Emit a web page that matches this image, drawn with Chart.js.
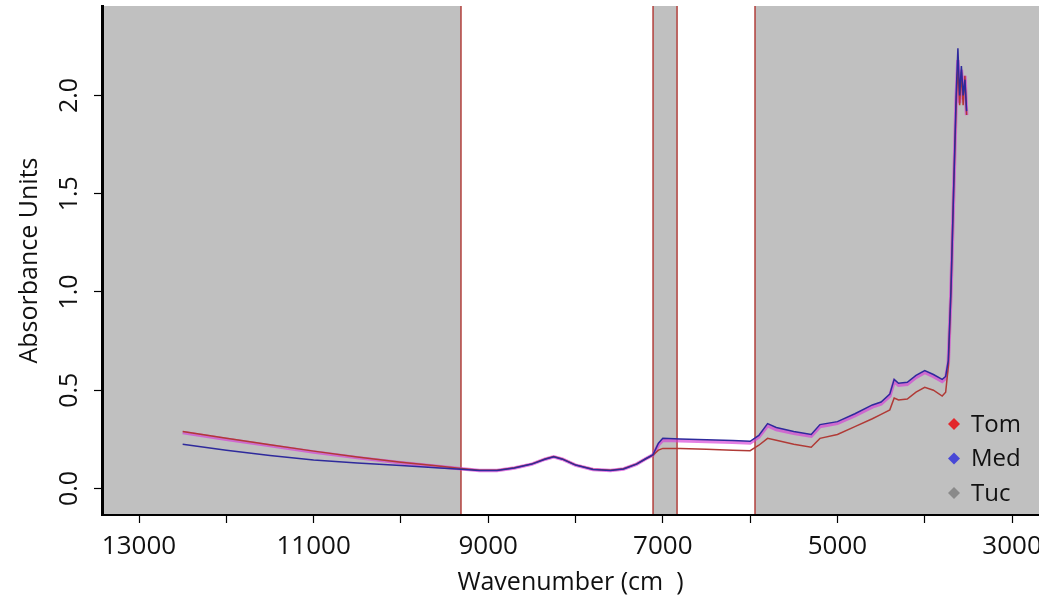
<!DOCTYPE html>
<html>
<head>
<meta charset="utf-8">
<title>Absorbance spectra</title>
<script src="https://cdn.jsdelivr.net/npm/chart.js@4.4.0/dist/chart.umd.min.js"></script>
<style>
  html, body { margin: 0; padding: 0; background: #fff; }
  #wrap { width: 1039px; height: 600px; position: relative; }
</style>
</head>
<body>
<div id="wrap"><canvas id="spectrum"></canvas></div>
<script>
// wavenumbers (cm-1) of the sampled points, high to low
const wavenumbers = [12500, 12000, 11500, 11000, 10500, 10000, 9600, 9312, 9100, 8900,
  8700, 8500, 8350, 8250, 8150, 8000, 7800, 7600, 7450, 7300,
  7200, 7112, 7050, 7000, 6800, 6500, 6200, 6000, 5900, 5800,
  5700, 5500, 5300, 5200, 5000, 4800, 4600, 4500, 4400, 4350,
  4300, 4200, 4100, 4000, 3900, 3800, 3760, 3730, 3700, 3670,
  3640, 3620, 3600, 3580, 3560, 3540, 3520];

const tom = [0.290, 0.255, 0.222, 0.190, 0.160, 0.133, 0.115, 0.102, 0.093, 0.093,
  0.105, 0.125, 0.150, 0.162, 0.150, 0.120, 0.098, 0.093, 0.100, 0.125,
  0.150, 0.170, 0.195, 0.204, 0.203, 0.200, 0.195, 0.192, 0.220, 0.255,
  0.245, 0.225, 0.210, 0.255, 0.275, 0.315, 0.355, 0.377, 0.400, 0.460,
  0.450, 0.455, 0.490, 0.515, 0.500, 0.470, 0.490, 0.620, 1.000, 1.500,
  1.950, 2.150, 1.950, 2.120, 1.950, 2.100, 1.900];

const med = [0.225, 0.195, 0.168, 0.145, 0.130, 0.117, 0.105, 0.098, 0.092, 0.092,
  0.104, 0.124, 0.149, 0.161, 0.149, 0.119, 0.097, 0.092, 0.099, 0.124,
  0.150, 0.172, 0.230, 0.255, 0.252, 0.248, 0.244, 0.240, 0.270, 0.330,
  0.310, 0.290, 0.275, 0.325, 0.340, 0.380, 0.425, 0.440, 0.480, 0.555,
  0.535, 0.540, 0.575, 0.600, 0.580, 0.555, 0.570, 0.650, 1.000, 1.500,
  2.000, 2.240, 2.000, 2.150, 2.000, 2.080, 1.920];

const tuc = [0.285, 0.250, 0.218, 0.186, 0.157, 0.131, 0.113, 0.100, 0.092, 0.092,
  0.104, 0.124, 0.149, 0.161, 0.149, 0.119, 0.097, 0.092, 0.099, 0.124,
  0.150, 0.171, 0.222, 0.245, 0.243, 0.239, 0.235, 0.231, 0.262, 0.320,
  0.300, 0.281, 0.266, 0.315, 0.331, 0.370, 0.415, 0.430, 0.470, 0.545,
  0.525, 0.530, 0.565, 0.590, 0.570, 0.545, 0.560, 0.640, 0.990, 1.480,
  1.980, 2.180, 1.960, 2.130, 1.980, 2.100, 1.900];

const seriesNames = ['Tom', 'Med', 'Tuc'];

// excluded (shaded) spectral regions and their boundaries
const greyBands = [[13424, 9312], [7112, 6837], [5944, 2691]];
const regionEdges = [9312, 7112, 6837, 5944];

const xTicks = [13000, 12000, 11000, 10000, 9000, 8000, 7000, 6000, 5000, 4000, 3000];
const yTicks = [0, 0.5, 1, 1.5, 2];

const FONT = '"Open Sans", "Noto Sans", sans-serif';
const lineColors = ['#b03a36', '#2e2a9c', 'rgba(214, 60, 214, 0.65)'];
const lineWidths = [1.5, 1.5, 3.5];
const drawOrder = [1, 0, 2]; // Med on top, Tuc glow underneath
const legendColors = ['#e3262b', '#4848d6', '#8a8a8a'];

const toPoints = ys => wavenumbers.map((x, i) => ({ x, y: ys[i] }));

// grey bands + red boundary lines, painted before the axes
const regionPlugin = {
  id: 'regions',
  beforeDraw(chart) {
    const { ctx, chartArea: a, scales: { x } } = chart;
    ctx.save();
    ctx.beginPath();
    ctx.rect(a.left, a.top, a.right - a.left, a.bottom - a.top);
    ctx.clip();
    ctx.fillStyle = '#c0c0c0';
    greyBands.forEach(([from, to]) => {
      const x1 = x.getPixelForValue(from);
      const x2 = x.getPixelForValue(to);
      ctx.fillRect(Math.min(x1, x2), a.top, Math.abs(x2 - x1), a.bottom - a.top);
    });
    ctx.strokeStyle = '#b2403c';
    ctx.lineWidth = 1.5;
    regionEdges.forEach(v => {
      const px = x.getPixelForValue(v);
      ctx.beginPath();
      ctx.moveTo(px, a.top);
      ctx.lineTo(px, a.bottom);
      ctx.stroke();
    });
    ctx.restore();
  },
};

// rotated y tick labels and the in-plot legend
const labelPlugin = {
  id: 'labels',
  afterDraw(chart) {
    const { ctx, chartArea: a, scales: { y } } = chart;
    ctx.save();
    ctx.fillStyle = '#111';
    ctx.font = `25px ${FONT}`;
    ctx.textAlign = 'center';
    ctx.textBaseline = 'middle';
    yTicks.forEach(v => {
      ctx.save();
      ctx.translate(70, y.getPixelForValue(v));
      ctx.rotate(-Math.PI / 2);
      ctx.fillText(v.toFixed(1), 0, 0);
      ctx.restore();
    });

    ctx.font = `24px ${FONT}`;
    ctx.textAlign = 'left';
    chart.data.datasets.forEach((ds, i) => {
      const cy = a.bottom - 91 + i * 34.5;
      const cx = a.right - 85;
      ctx.fillStyle = legendColors[i];
      ctx.beginPath();
      ctx.moveTo(cx, cy - 6);
      ctx.lineTo(cx + 6, cy);
      ctx.lineTo(cx, cy + 6);
      ctx.lineTo(cx - 6, cy);
      ctx.closePath();
      ctx.fill();
      ctx.fillStyle = '#111';
      ctx.fillText(ds.label, cx + 17, cy + 1);
    });
    ctx.restore();
  },
};

const ctx = document.getElementById('spectrum');
new Chart(ctx, {
  type: 'line',
  data: {
    datasets: [tom, med, tuc].map((ys, i) => ({
      label: seriesNames[i],
      data: toPoints(ys),
      borderColor: lineColors[i],
      borderWidth: lineWidths[i],
      order: drawOrder[i],
      pointRadius: 0,
      tension: 0,
    })),
  },
  options: {
    responsive: true,
    maintainAspectRatio: false,
    animation: false,
    layout: { padding: { top: 6, right: 0, left: 0, bottom: 0 } },
    plugins: {
      legend: { display: false },
      tooltip: { enabled: false },
    },
    scales: {
      x: {
        type: 'linear',
        reverse: true,
        min: 2691,
        max: 13424,
        afterBuildTicks: s => { s.ticks = xTicks.map(value => ({ value })); },
        afterFit: s => { s.height = 85; s.paddingLeft = 0; s.paddingRight = 0; },
        border: { display: true, color: '#000', width: 2 },
        grid: { drawOnChartArea: false, drawTicks: true, tickLength: 8, color: '#000', tickWidth: 1.2 },
        ticks: {
          autoSkip: false,
          maxRotation: 0,
          padding: 8,
          color: '#111',
          font: { family: FONT, size: 26 },
          callback: v => (v % 2000 === 1000 ? String(v) : ''),
        },
        title: {
          display: true,
          text: 'Wavenumber (cm  )',
          color: '#111',
          font: { family: FONT, size: 25 },
          padding: { top: 0, bottom: 2 },
        },
      },
      y: {
        min: -0.135,
        max: 2.455,
        afterBuildTicks: s => { s.ticks = yTicks.map(value => ({ value })); },
        afterFit: s => { s.width = 102; },
        border: { display: true, color: '#000', width: 3 },
        grid: { drawOnChartArea: false, drawTicks: true, tickLength: 8, color: '#000', tickWidth: 1.2 },
        ticks: { display: false },
        title: {
          display: true,
          text: 'Absorbance Units',
          color: '#111',
          font: { family: FONT, size: 25 },
          padding: { top: 15, bottom: 0 },
        },
      },
    },
  },
  plugins: [regionPlugin, labelPlugin],
});
</script>
</body>
</html>
